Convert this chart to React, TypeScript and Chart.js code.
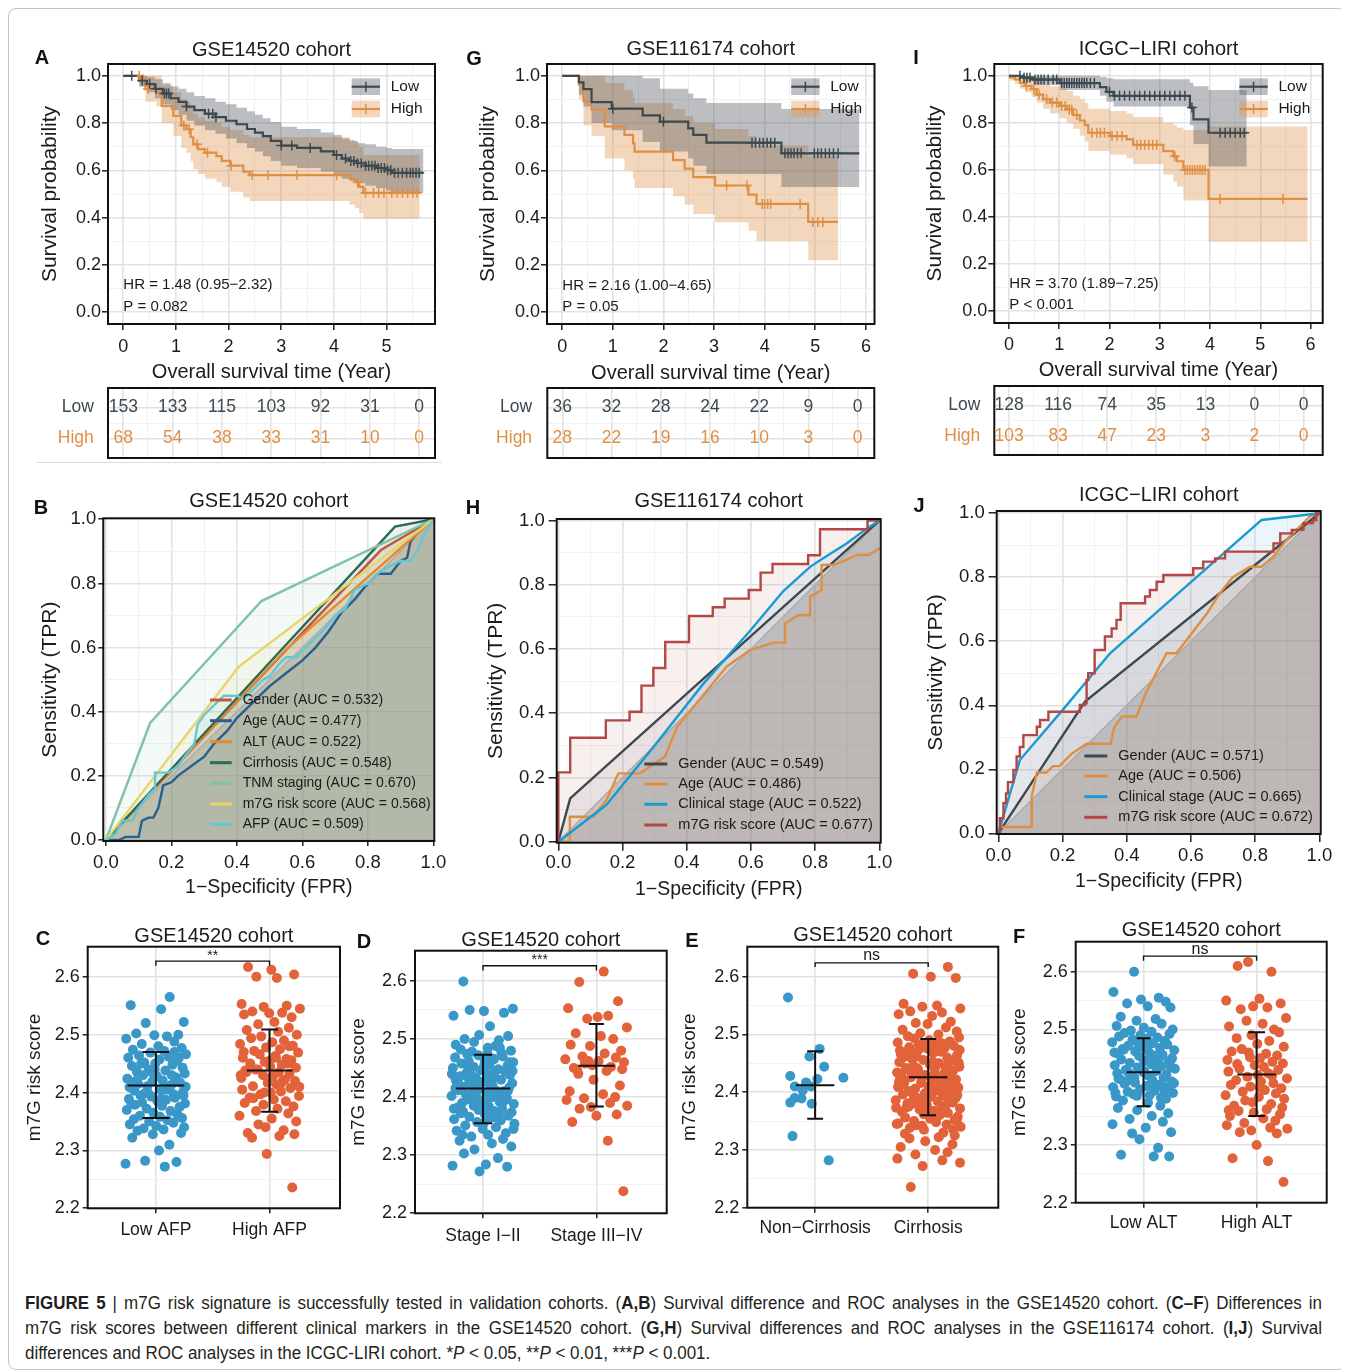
import React, { useEffect, useRef } from 'react';
import { Chart, registerables } from 'chart.js';

Chart.register(...registerables);

/* ---------------- style constants ---------------- */
const FONT = "'Liberation Sans', Arial, Helvetica, sans-serif";
const INK = '#1b1b1b';
const GRID_MAJOR = '#e2e2e2';
const GRID_MINOR = '#efefef';
const LOW_COL = '#3C494F';
const HIGH_COL = '#DF8F44';
const LOW_BAND = 'rgba(70,76,82,0.36)';
const HIGH_BAND = 'rgba(223,143,68,0.36)';
const BLUE = '#3A98C8';
const RED = '#E2623A';

/* ---------------- KM: GSE14520 (A) ---------------- */
const A_low_t = [0, 0.3, 0.45, 0.6, 0.75, 0.9, 1.05, 1.2, 1.35, 1.55, 1.75, 1.95, 2.15, 2.35, 2.5, 2.65, 2.8, 3.0, 3.3, 3.75, 4.0, 4.15, 4.3, 4.45, 4.6, 4.8, 5.0, 5.1];
const A_low_s = [1, 0.98, 0.965, 0.945, 0.925, 0.905, 0.89, 0.87, 0.855, 0.84, 0.825, 0.81, 0.795, 0.775, 0.76, 0.745, 0.725, 0.705, 0.695, 0.68, 0.665, 0.65, 0.64, 0.63, 0.62, 0.61, 0.6, 0.59];
const A_low_up = [1, 1, 0.995, 0.985, 0.97, 0.955, 0.945, 0.93, 0.915, 0.905, 0.89, 0.88, 0.865, 0.85, 0.835, 0.82, 0.805, 0.785, 0.775, 0.76, 0.75, 0.735, 0.725, 0.715, 0.71, 0.7, 0.695, 0.69];
const A_low_lo = [1, 0.955, 0.93, 0.905, 0.88, 0.855, 0.835, 0.81, 0.79, 0.77, 0.755, 0.735, 0.715, 0.695, 0.68, 0.66, 0.64, 0.62, 0.61, 0.595, 0.58, 0.565, 0.555, 0.545, 0.535, 0.525, 0.515, 0.505];
const A_low_end = 5.7;
const A_low_cens = [0.16, 0.36, 0.5, 0.62, 0.78, 0.82, 0.86, 1.2, 1.62, 1.7, 1.76, 3.0, 3.2, 3.55, 4.05, 4.22, 4.32, 4.38, 4.45, 4.52, 4.6, 4.66, 4.72, 4.78, 4.84, 4.9, 4.96, 5.02, 5.08, 5.15, 5.22, 5.3, 5.38, 5.45, 5.5, 5.56, 5.62];
const A_high_t = [0, 0.32, 0.42, 0.63, 0.73, 0.95, 1.1, 1.2, 1.28, 1.33, 1.42, 1.55, 1.77, 1.87, 2.03, 2.28, 2.4, 4.3, 4.4, 4.48, 4.56];
const A_high_s = [1, 0.986, 0.944, 0.93, 0.873, 0.83, 0.79, 0.774, 0.74, 0.71, 0.69, 0.675, 0.66, 0.64, 0.62, 0.595, 0.58, 0.565, 0.55, 0.53, 0.505];
const A_high_up = [1, 1, 1, 1, 0.96, 0.93, 0.9, 0.89, 0.865, 0.84, 0.825, 0.81, 0.8, 0.785, 0.77, 0.75, 0.74, 0.73, 0.72, 0.7, 0.665];
const A_high_lo = [1, 0.955, 0.89, 0.87, 0.8, 0.745, 0.695, 0.675, 0.64, 0.605, 0.585, 0.565, 0.55, 0.53, 0.51, 0.485, 0.47, 0.455, 0.44, 0.42, 0.395];
const A_high_end = 5.63;
const A_high_cens = [0.3, 0.38, 0.47, 1.15, 1.25, 1.4, 1.6, 2.05, 2.45, 2.75, 3.3, 4.05, 4.45, 4.6, 4.75, 4.85, 4.95, 5.1, 5.2, 5.3, 5.4, 5.5, 5.58];
const A_risk_low = [153, 133, 115, 103, 92, 31, 0];
const A_risk_high = [68, 54, 38, 33, 31, 10, 0];

/* ---------------- KM: GSE116174 (G) ---------------- */
const G_low_t = [0, 0.33, 0.42, 0.58, 0.98, 1.59, 1.93, 2.49, 2.59, 2.85, 4.33];
const G_low_s = [1, 0.972, 0.944, 0.889, 0.861, 0.833, 0.806, 0.778, 0.75, 0.717, 0.672];
const G_low_up = [1, 1, 1, 1, 1, 0.99, 0.945, 0.925, 0.905, 0.885, 0.86];
const G_low_lo = [1, 0.92, 0.87, 0.8, 0.77, 0.72, 0.68, 0.65, 0.62, 0.585, 0.53];
const G_low_end = 5.87;
const G_low_cens = [1.0, 2.0, 3.75, 3.82, 3.9, 3.97, 4.05, 4.12, 4.2, 4.4, 4.46, 4.52, 4.58, 4.65, 4.72, 4.98, 5.05, 5.12, 5.2, 5.28, 5.36, 5.45];
const G_high_t = [0, 0.33, 0.42, 0.58, 0.84, 1.23, 1.4, 1.43, 2.19, 2.42, 2.59, 3.02, 3.68, 3.84, 4.86];
const G_high_s = [1, 0.964, 0.893, 0.857, 0.786, 0.75, 0.714, 0.679, 0.643, 0.607, 0.571, 0.536, 0.497, 0.458, 0.382];
const G_high_up = [1, 1, 1, 1, 0.97, 0.94, 0.91, 0.885, 0.86, 0.83, 0.8, 0.775, 0.745, 0.705, 0.66];
const G_high_lo = [1, 0.9, 0.79, 0.745, 0.65, 0.6, 0.565, 0.525, 0.49, 0.455, 0.415, 0.38, 0.345, 0.3, 0.22];
const G_high_end = 5.45;
const G_high_cens = [3.25, 3.65, 3.95, 4.0, 4.06, 4.12, 4.7, 4.95, 5.05, 5.15];
const G_risk_low = [36, 32, 28, 24, 22, 9, 0];
const G_risk_high = [28, 22, 19, 16, 10, 3, 0];

/* ---------------- KM: ICGC-LIRI (I) ---------------- */
const I_low_t = [0, 0.28, 0.48, 1.01, 1.81, 1.94, 2.08, 3.6, 3.67, 3.97];
const I_low_s = [1, 0.992, 0.984, 0.969, 0.952, 0.932, 0.915, 0.865, 0.815, 0.758];
const I_low_up = [1, 1, 1, 1, 0.995, 0.99, 0.985, 0.97, 0.955, 0.94];
const I_low_lo = [1, 0.977, 0.962, 0.94, 0.915, 0.89, 0.87, 0.79, 0.71, 0.615];
const I_low_end = 4.73;
const I_low_cens = [0.22, 0.3, 0.36, 0.42, 0.52, 0.58, 0.64, 0.7, 0.78, 0.88, 0.95, 1.05, 1.1, 1.15, 1.2, 1.25, 1.3, 1.35, 1.4, 1.45, 1.5, 1.55, 1.62, 1.7, 2.0, 2.1, 2.2, 2.3, 2.4, 2.5, 2.6, 2.7, 2.8, 2.9, 3.0, 3.1, 3.2, 3.3, 3.4, 3.5, 3.64, 4.2, 4.3, 4.4, 4.5, 4.6, 4.68];
const I_high_t = [0, 0.02, 0.12, 0.22, 0.32, 0.45, 0.55, 0.68, 0.82, 1.01, 1.15, 1.28, 1.41, 1.51, 1.58, 2.01, 2.34, 2.47, 3.07, 3.27, 3.34, 3.47, 3.97];
const I_high_s = [1, 0.993, 0.985, 0.97, 0.957, 0.943, 0.92, 0.9, 0.886, 0.872, 0.857, 0.833, 0.81, 0.79, 0.758, 0.744, 0.73, 0.707, 0.68, 0.658, 0.637, 0.6, 0.477];
const I_high_up = [1, 1, 1, 1, 1, 0.995, 0.98, 0.965, 0.955, 0.945, 0.935, 0.915, 0.9, 0.885, 0.86, 0.85, 0.84, 0.825, 0.8, 0.79, 0.78, 0.77, 0.785];
const I_high_lo = [1, 0.98, 0.965, 0.945, 0.93, 0.91, 0.885, 0.86, 0.84, 0.82, 0.8, 0.775, 0.745, 0.72, 0.68, 0.665, 0.65, 0.625, 0.58, 0.55, 0.53, 0.47, 0.295];
const I_high_end = 5.94;
const I_high_cens = [0.35, 0.5, 0.6, 0.75, 0.86, 0.95, 1.05, 1.12, 1.2, 1.25, 1.35, 1.65, 1.75, 1.82, 1.9, 2.05, 2.15, 2.25, 2.55, 2.62, 2.7, 2.78, 2.86, 2.94, 3.3, 3.5, 3.55, 3.6, 3.65, 3.7, 3.75, 3.8, 3.85, 3.9, 4.2, 5.45];
const I_risk_low = [128, 116, 74, 35, 13, 0, 0];
const I_risk_high = [103, 83, 47, 23, 3, 2, 0];

const RISK_TIMES = [0, 1, 2, 3, 4, 5, 6];

/* ---------------- ROC: GSE14520 (B) ---------------- */
const B_gender_fpr = [0, 0.84, 1];
const B_gender_tpr = [0, 0.904, 1];
const B_age_fpr = [0, 0.04, 0.06, 0.1, 0.11, 0.13, 0.145, 0.16, 0.175, 0.2, 0.22, 0.26, 0.3, 0.33, 0.37, 0.4, 0.45, 0.5, 0.55, 0.6, 0.64, 0.68, 0.72, 0.76, 0.8, 0.83, 0.87, 0.9, 0.92, 0.93, 0.96, 1];
const B_age_tpr = [0, 0, 0.01, 0.01, 0.06, 0.07, 0.07, 0.1, 0.17, 0.18, 0.2, 0.23, 0.26, 0.3, 0.34, 0.38, 0.43, 0.48, 0.52, 0.56, 0.6, 0.65, 0.71, 0.75, 0.8, 0.83, 0.83, 0.87, 0.88, 0.93, 0.97, 1];
const B_alt_fpr = [0, 0.55, 1];
const B_alt_tpr = [0, 0.594, 1];
const B_cirr_fpr = [0, 0.883, 1];
const B_cirr_tpr = [0, 0.977, 1];
const B_tnm_fpr = [0, 0.135, 0.475, 1];
const B_tnm_tpr = [0, 0.365, 0.745, 1];
const B_m7g_fpr = [0, 0.405, 1];
const B_m7g_tpr = [0, 0.54, 1];
const B_afp_fpr = [0, 0.03, 0.05, 0.08, 0.1, 0.13, 0.15, 0.15, 0.19, 0.22, 0.24, 0.27, 0.28, 0.3, 0.34, 0.36, 0.4, 0.42, 0.45, 0.48, 0.5, 0.53, 0.55, 0.58, 0.61, 0.64, 0.67, 0.7, 0.73, 0.76, 0.8, 0.84, 0.9, 0.93, 0.95, 0.97, 1];
const B_afp_tpr = [0, 0.02, 0.06, 0.06, 0.1, 0.14, 0.16, 0.21, 0.21, 0.23, 0.26, 0.3, 0.36, 0.39, 0.43, 0.45, 0.45, 0.44, 0.47, 0.5, 0.51, 0.55, 0.57, 0.57, 0.6, 0.63, 0.66, 0.7, 0.72, 0.78, 0.8, 0.84, 0.87, 0.87, 0.9, 0.95, 1];
const B_labels = ['Gender (AUC = 0.532)', 'Age (AUC = 0.477)', 'ALT (AUC = 0.522)', 'Cirrhosis (AUC = 0.548)', 'TNM staging (AUC = 0.670)', 'm7G risk score (AUC = 0.568)', 'AFP (AUC = 0.509)'];

/* ---------------- ROC: GSE116174 (H) ---------------- */
const H_gender_fpr = [0, 0.037, 1];
const H_gender_tpr = [0, 0.135, 1];
const H_age_fpr = [0, 0.036, 0.036, 0.109, 0.15, 0.187, 0.254, 0.332, 0.37, 0.524, 0.597, 0.67, 0.706, 0.706, 0.748, 0.784, 0.784, 0.82, 0.82, 0.857, 0.895, 0.93, 0.966, 1];
const H_age_tpr = [0, 0, 0.078, 0.078, 0.13, 0.213, 0.213, 0.265, 0.358, 0.545, 0.597, 0.62, 0.62, 0.68, 0.706, 0.706, 0.763, 0.784, 0.862, 0.862, 0.877, 0.893, 0.893, 0.914];
const H_stage_fpr = [0, 0.15, 0.3, 0.45, 0.6, 0.7, 0.784, 0.82, 0.9, 0.96, 1];
const H_stage_tpr = [0, 0.115, 0.3, 0.49, 0.66, 0.78, 0.856, 0.88, 0.93, 0.975, 1];
const H_m7g_fpr = [0, 0, 0.037, 0.148, 0.222, 0.259, 0.296, 0.333, 0.407, 0.481, 0.518, 0.593, 0.63, 0.667, 0.778, 0.815, 0.963, 1];
const H_m7g_tpr = [0, 0.216, 0.324, 0.378, 0.405, 0.486, 0.541, 0.622, 0.703, 0.73, 0.757, 0.784, 0.838, 0.865, 0.892, 0.973, 1, 1];
const H_labels = ['Gender (AUC = 0.549)', 'Age (AUC = 0.486)', 'Clinical stage (AUC = 0.522)', 'm7G risk score (AUC = 0.677)'];

/* ---------------- ROC: ICGC-LIRI (J) ---------------- */
const J_gender_fpr = [0, 0.27, 1];
const J_gender_tpr = [0, 0.412, 1];
const J_age_fpr = [0, 0.005, 0.104, 0.104, 0.12, 0.15, 0.17, 0.19, 0.23, 0.275, 0.35, 0.36, 0.385, 0.43, 0.46, 0.524, 0.555, 0.65, 0.69, 0.73, 0.784, 0.82, 0.857, 0.898, 0.97, 1];
const J_age_tpr = [0, 0.02, 0.02, 0.115, 0.19, 0.19, 0.21, 0.21, 0.25, 0.28, 0.28, 0.33, 0.365, 0.365, 0.44, 0.5625, 0.5625, 0.6875, 0.75, 0.8, 0.833, 0.833, 0.865, 0.917, 0.99, 1];
const J_stage_fpr = [0, 0.067, 0.2, 0.348, 0.82, 1];
const J_stage_tpr = [0, 0.229, 0.385, 0.5625, 0.979, 1];
const J_m7g_fpr = [0, 0.005, 0.016, 0.024, 0.03, 0.047, 0.057, 0.067, 0.078, 0.12, 0.13, 0.156, 0.254, 0.27, 0.275, 0.28, 0.3, 0.332, 0.353, 0.368, 0.381, 0.457, 0.472, 0.493, 0.514, 0.607, 0.638, 0.675, 0.706, 0.857, 0.878, 0.914, 0.95, 0.98, 0.99, 1];
const J_m7g_tpr = [0, 0.047, 0.094, 0.125, 0.16, 0.198, 0.24, 0.27, 0.307, 0.333, 0.354, 0.38, 0.401, 0.406, 0.479, 0.5, 0.573, 0.615, 0.64, 0.667, 0.719, 0.74, 0.76, 0.786, 0.807, 0.828, 0.849, 0.859, 0.88, 0.906, 0.937, 0.948, 0.969, 0.979, 1, 1];
const J_labels = ['Gender (AUC = 0.571)', 'Age (AUC = 0.506)', 'Clinical stage (AUC = 0.665)', 'm7G risk score (AUC = 0.672)'];

/* ---------------- dot plots (C-F) ---------------- */
const C_cats = ['Low AFP', 'High AFP'];
const C_low = [2.565, 2.551, 2.544, 2.522, 2.52, 2.502, 2.5, 2.499, 2.497, 2.493, 2.488, 2.484, 2.48, 2.477, 2.474, 2.472, 2.469, 2.466, 2.464, 2.462, 2.46, 2.457, 2.455, 2.452, 2.45, 2.448, 2.446, 2.443, 2.44, 2.438, 2.436, 2.433, 2.43, 2.428, 2.426, 2.424, 2.421, 2.419, 2.417, 2.415, 2.413, 2.411, 2.409, 2.407, 2.405, 2.403, 2.401, 2.399, 2.397, 2.395, 2.393, 2.391, 2.389, 2.387, 2.385, 2.383, 2.381, 2.379, 2.377, 2.375, 2.372, 2.37, 2.368, 2.365, 2.362, 2.36, 2.358, 2.356, 2.354, 2.352, 2.35, 2.348, 2.345, 2.342, 2.34, 2.338, 2.336, 2.334, 2.33, 2.328, 2.322, 2.31, 2.3, 2.282, 2.28, 2.277, 2.272, 2.46, 2.45, 2.44, 2.43, 2.42, 2.41, 2.4, 2.39, 2.38, 2.47, 2.435, 2.405, 2.395];
const C_high = [2.617, 2.612, 2.604, 2.6, 2.598, 2.553, 2.55, 2.548, 2.545, 2.54, 2.538, 2.537, 2.535, 2.53, 2.522, 2.518, 2.512, 2.508, 2.505, 2.5, 2.497, 2.494, 2.49, 2.487, 2.484, 2.481, 2.478, 2.475, 2.472, 2.469, 2.466, 2.463, 2.46, 2.458, 2.456, 2.453, 2.45, 2.448, 2.445, 2.443, 2.44, 2.438, 2.435, 2.432, 2.43, 2.428, 2.425, 2.422, 2.42, 2.417, 2.414, 2.411, 2.408, 2.405, 2.402, 2.4, 2.397, 2.394, 2.391, 2.388, 2.385, 2.382, 2.379, 2.376, 2.372, 2.368, 2.364, 2.36, 2.355, 2.35, 2.345, 2.34, 2.335, 2.33, 2.328, 2.325, 2.322, 2.294, 2.236, 2.47, 2.46, 2.45, 2.44, 2.43, 2.42, 2.41, 2.4, 2.39, 2.48, 2.455, 2.435, 2.415];
const C_mean = [2.412, 2.438];
const C_sdLo = [2.356, 2.367];
const C_sdHi = [2.47, 2.509];
const C_bracket = [2.627, 2.619];
const C_sig = '**';

const D_cats = ['Stage I\u2212II', 'Stage III\u2212IV'];
const D_low = [2.599, 2.552, 2.55, 2.548, 2.545, 2.54, 2.522, 2.507, 2.505, 2.5, 2.498, 2.495, 2.49, 2.488, 2.485, 2.482, 2.48, 2.478, 2.476, 2.474, 2.472, 2.47, 2.468, 2.466, 2.464, 2.462, 2.46, 2.458, 2.456, 2.454, 2.452, 2.45, 2.448, 2.446, 2.444, 2.442, 2.44, 2.438, 2.436, 2.434, 2.432, 2.43, 2.428, 2.426, 2.424, 2.422, 2.42, 2.418, 2.416, 2.414, 2.412, 2.41, 2.408, 2.406, 2.404, 2.402, 2.4, 2.398, 2.396, 2.394, 2.392, 2.39, 2.388, 2.386, 2.384, 2.382, 2.38, 2.378, 2.376, 2.374, 2.372, 2.37, 2.368, 2.366, 2.364, 2.362, 2.36, 2.357, 2.354, 2.351, 2.348, 2.345, 2.342, 2.338, 2.335, 2.332, 2.328, 2.325, 2.32, 2.315, 2.31, 2.303, 2.295, 2.284, 2.282, 2.28, 2.272, 2.465, 2.455, 2.445, 2.435, 2.425, 2.415, 2.405, 2.395, 2.385, 2.375, 2.365, 2.355, 2.45, 2.44, 2.43, 2.42, 2.41, 2.4, 2.39, 2.38, 2.37, 2.46, 2.425, 2.415, 2.405, 2.395, 2.435, 2.445, 2.455, 2.385, 2.345, 2.335, 2.475, 2.485, 2.415, 2.42, 2.41, 2.4, 2.43, 2.39, 2.44, 2.38];
const D_high = [2.616, 2.598, 2.565, 2.553, 2.54, 2.538, 2.535, 2.52, 2.51, 2.505, 2.5, 2.49, 2.488, 2.48, 2.475, 2.47, 2.468, 2.465, 2.462, 2.46, 2.458, 2.455, 2.452, 2.45, 2.448, 2.445, 2.44, 2.43, 2.42, 2.41, 2.405, 2.4, 2.398, 2.395, 2.39, 2.385, 2.383, 2.38, 2.37, 2.368, 2.357, 2.325, 2.238, 2.462, 2.447];
const D_mean = [2.415, 2.454];
const D_sdLo = [2.355, 2.384];
const D_sdHi = [2.473, 2.526];
const D_bracket = [2.626, 2.618];
const D_sig = '***';

const E_cats = ['Non\u2212Cirrhosis', 'Cirrhosis'];
const E_low = [2.564, 2.475, 2.462, 2.444, 2.425, 2.428, 2.423, 2.417, 2.41, 2.403, 2.39, 2.389, 2.382, 2.38, 2.324, 2.282, 2.41];
const E_low_dx = [-0.24, 0.04, -0.05, 0.08, 0.25, -0.22, 0.02, -0.08, -0.18, -0.11, -0.18, -0.12, -0.22, -0.03, -0.2, 0.12, -0.035];
const E_high = [2.617, 2.605, 2.6, 2.598, 2.553, 2.55, 2.548, 2.545, 2.54, 2.538, 2.535, 2.532, 2.522, 2.52, 2.518, 2.512, 2.508, 2.505, 2.502, 2.5,
  2.497, 2.495, 2.493, 2.49, 2.488, 2.486, 2.484, 2.482, 2.48, 2.478, 2.476, 2.474, 2.472, 2.47, 2.468, 2.466, 2.464, 2.462, 2.46, 2.458,
  2.456, 2.454, 2.452, 2.45, 2.448, 2.446, 2.444, 2.442, 2.44, 2.438, 2.436, 2.434, 2.432, 2.43, 2.428, 2.426, 2.424, 2.422, 2.42, 2.418,
  2.416, 2.414, 2.412, 2.41, 2.408, 2.406, 2.404, 2.402, 2.4, 2.398, 2.396, 2.394, 2.392, 2.39, 2.388, 2.386, 2.384, 2.382, 2.38, 2.378,
  2.376, 2.374, 2.372, 2.37, 2.368, 2.366, 2.364, 2.362, 2.36, 2.358, 2.356, 2.354, 2.352, 2.35, 2.348, 2.346, 2.344, 2.342, 2.34, 2.338,
  2.485, 2.475, 2.465, 2.455, 2.445, 2.435, 2.425, 2.415, 2.405, 2.395, 2.385, 2.375, 2.365, 2.355, 2.345, 2.335,
  2.481, 2.471, 2.461, 2.451, 2.441, 2.431, 2.421, 2.411, 2.401, 2.391, 2.381, 2.371, 2.361, 2.351,
  2.469, 2.459, 2.449, 2.439, 2.429, 2.419, 2.409, 2.399, 2.389, 2.379, 2.447, 2.437, 2.427, 2.417, 2.407, 2.397,
  2.483, 2.473, 2.463, 2.453, 2.443, 2.433, 2.423, 2.413, 2.403, 2.393, 2.383, 2.373, 2.363, 2.353, 2.343,
  2.335, 2.33, 2.328, 2.325, 2.322, 2.32, 2.315, 2.31, 2.305, 2.3, 2.296, 2.292, 2.285, 2.282, 2.278, 2.272, 2.236];
const E_mean = [2.412, 2.426];
const E_sdLo = [2.354, 2.36];
const E_sdHi = [2.471, 2.492];
const E_bracket = [2.624, 2.617];
const E_sig = 'ns';

const F_cats = ['Low ALT', 'High ALT'];
const F_low = [2.6, 2.565, 2.555, 2.552, 2.548, 2.545, 2.54, 2.538, 2.522, 2.518, 2.515, 2.51, 2.506, 2.503, 2.5,
  2.498, 2.496, 2.494, 2.492, 2.49, 2.488, 2.486, 2.484, 2.482, 2.48, 2.478, 2.476, 2.474, 2.472, 2.47, 2.468, 2.466, 2.464, 2.462, 2.46,
  2.458, 2.456, 2.454, 2.452, 2.45, 2.448, 2.446, 2.444, 2.442, 2.44, 2.438, 2.436, 2.434, 2.432, 2.43, 2.428, 2.426, 2.424, 2.422, 2.42,
  2.418, 2.416, 2.414, 2.412, 2.41, 2.408, 2.406, 2.404, 2.402, 2.4, 2.398, 2.396, 2.394, 2.392, 2.39, 2.388, 2.386, 2.384, 2.382, 2.38,
  2.475, 2.465, 2.455, 2.445, 2.435, 2.425, 2.415, 2.405, 2.395, 2.385, 2.47, 2.46, 2.45, 2.44, 2.43, 2.42, 2.41, 2.4, 2.39, 2.437, 2.427, 2.417, 2.407,
  2.377, 2.373, 2.368, 2.364, 2.36, 2.355, 2.35, 2.345, 2.34, 2.336, 2.33, 2.322, 2.32, 2.31, 2.295, 2.283, 2.28, 2.28];
const F_high = [2.617, 2.61, 2.6, 2.553, 2.55, 2.545, 2.54, 2.538, 2.535, 2.52, 2.515, 2.51, 2.505, 2.5, 2.495,
  2.49, 2.485, 2.48, 2.475, 2.47, 2.466, 2.462, 2.458, 2.455, 2.452, 2.45, 2.447, 2.444, 2.441, 2.438, 2.435, 2.432, 2.43, 2.427, 2.424,
  2.421, 2.418, 2.415, 2.412, 2.41, 2.407, 2.404, 2.401, 2.398, 2.395, 2.392, 2.389, 2.386, 2.383, 2.38, 2.377, 2.374, 2.371, 2.368, 2.365,
  2.362, 2.359, 2.356, 2.353, 2.35, 2.346, 2.342, 2.338, 2.334, 2.33,
  2.328, 2.325, 2.322, 2.32, 2.3, 2.277, 2.272, 2.236, 2.46, 2.44, 2.42, 2.4, 2.36];
const F_mean = [2.426, 2.422];
const F_sdLo = [2.367, 2.35];
const F_sdHi = [2.485, 2.495];
const F_bracket = [2.627, 2.619];
const F_sig = 'ns';

/* hand-typed jitter offsets (fractions of jitter half-width) */
const JIT = [0.45, -0.82, 0.17, 0.91, -0.33, -0.64, 0.73, -0.05, 0.36, -0.97, 0.6, -0.46, 0.08, 0.84, -0.75, 0.27, -0.18, 0.98, -0.55, 0.42, -0.9, 0.12, 0.69, -0.38, -0.02, 0.54, -0.78, 0.87, -0.24, 0.31, -0.62, 0.94, -0.42, 0.03, 0.66, -0.93, 0.22, -0.12, 0.79, -0.58, 0.5, -0.28, -0.86, 0.39, 0.15, -0.7, 0.88, -0.35, 0.58, -0.5,
  -0.15, 0.62, -0.88, 0.33, 0.05, -0.45, 0.95, -0.68, 0.2, 0.77, -0.3, -0.95, 0.48, -0.08, 0.7, -0.52, 0.13, 0.85, -0.72, 0.38, -0.22, 0.57, -0.85, 0.01, 0.92, -0.4, 0.25, -0.6, 0.82, -0.1, -0.77, 0.44, 0.1, -0.35, 0.67, -0.99, 0.29, 0.75, -0.48, -0.04, 0.52, -0.66, 0.97, -0.26, 0.18, -0.8, 0.6, -0.14, 0.35, 0.9,
  -0.7, 0.06, 0.8, -0.43, 0.24, -0.91, 0.56, -0.19, 0.99, -0.56, 0.41, -0.01, -0.83, 0.72, 0.16, -0.37, 0.63, -0.74, 0.28, 0.89, -0.27, -0.6, 0.47, 0.09, -0.96, 0.76, -0.11, 0.34, -0.5, 0.93, -0.32, 0.19, -0.87, 0.55, 0.71, -0.16, -0.63, 0.4, 0.02, 0.86, -0.47, -0.79, 0.3, 0.65, -0.21, 0.11, -0.92, 0.5, 0.83, -0.06,
  0.23, -0.54, 0.68, -0.89, 0.37, 0.04, -0.29, 0.96, -0.65, 0.14, 0.53, -0.81, -0.2, 0.78, 0.26, -0.44, 0.61, -0.98, 0.07, 0.87, -0.36, -0.13, 0.46, -0.71, 0.81, 0.32, -0.57, -0.09, 0.74, -0.84, 0.21, 0.59, -0.39, -0.94, 0.43, 0.97, -0.17, -0.53, 0.64, 0.0, -0.76, 0.36, 0.85, -0.25, -0.61, 0.49, 0.1, -0.88, 0.7, -0.31];

/* axis tick sets */
const KM_Y_TICKS = [0, 0.1, 0.2, 0.3, 0.4, 0.5, 0.6, 0.7, 0.8, 0.9, 1];
const KM_X_TICKS_5 = [0, 0.5, 1, 1.5, 2, 2.5, 3, 3.5, 4, 4.5, 5, 5.5];
const KM_X_TICKS_6 = [0, 0.5, 1, 1.5, 2, 2.5, 3, 3.5, 4, 4.5, 5, 5.5, 6];
const ROC_TICKS = [0, 0.1, 0.2, 0.3, 0.4, 0.5, 0.6, 0.7, 0.8, 0.9, 1];
const DOT_Y_TICKS = [2.2, 2.25, 2.3, 2.35, 2.4, 2.45, 2.5, 2.55, 2.6, 2.65];
const ROW_LOW = 0.72;
const ROW_HIGH = 0.28;

/* panel letters (page positions) */
const LETTERS = [
  { t: 'A', x: 42, y: 57 }, { t: 'G', x: 474, y: 58 }, { t: 'I', x: 916, y: 57 },
  { t: 'B', x: 41, y: 507 }, { t: 'H', x: 473, y: 507 }, { t: 'J', x: 919, y: 505 },
  { t: 'C', x: 43, y: 938 }, { t: 'D', x: 364, y: 941 }, { t: 'E', x: 692, y: 940 }, { t: 'F', x: 1019, y: 936 },
];

/* ---------------- helpers ---------------- */
function layoutFor(c: any, p: any) {
  return {
    padding: { left: 0, top: p.t - c.y, right: c.x + c.w - p.r, bottom: 0 },
    yW: p.l - c.x,
    xH: c.y + c.h - p.b,
  };
}

function axis(o: any) {
  const isMajor = (v: number) =>
    o.majors
      ? o.majors.some((m: number) => Math.abs(m - v) < 1e-6)
      : Math.abs(v / o.step - Math.round(v / o.step)) < 1e-6;
  const tv = (c: any) => (c && c.tick ? c.tick.value : NaN);
  return {
    type: 'linear',
    bounds: 'data',
    min: o.min,
    max: o.max,
    afterBuildTicks: (s: any) => {
      s.ticks = o.ticks.map((v: number) => ({ value: v }));
    },
    afterFit: (s: any) => {
      if (o.w !== undefined) s.width = o.w;
      if (o.h !== undefined) s.height = o.h;
    },
    grid: {
      color: (c: any) => (isMajor(tv(c)) ? GRID_MAJOR : GRID_MINOR),
      lineWidth: (c: any) => (isMajor(tv(c)) ? 1.6 : 0.9),
      drawTicks: o.tl > 0,
      tickLength: o.tl,
      tickWidth: 1.4,
      tickColor: (c: any) => (isMajor(tv(c)) ? '#111' : 'rgba(0,0,0,0)'),
    },
    border: { display: false },
    ticks: {
      autoSkip: false,
      maxRotation: 0,
      minRotation: 0,
      padding: o.pad,
      font: { family: FONT, size: o.fs },
      color: (c: any) => (o.colorOf ? o.colorOf(tv(c)) : INK),
      callback: (v: number) => (isMajor(v) ? o.fmt(v) : ''),
    },
    title: o.title
      ? { display: true, text: o.title, color: INK, font: { family: FONT, size: o.ts }, padding: { top: o.tpt || 0, bottom: o.tpb || 0 } }
      : { display: false },
  };
}

function makeDecor(spec: any) {
  return {
    id: 'decor',
    afterDatasetsDraw(chart: any) {
      const ctx = chart.ctx;
      const a = chart.chartArea;
      const X = (v: number) => v - spec.ox;
      const Y = (v: number) => v - spec.oy;
      const font = (s: number, b?: boolean) => `${b ? 'bold ' : ''}${s}px ${FONT}`;
      ctx.save();
      ctx.textBaseline = 'middle';
      if (spec.table) {
        const T = spec.table;
        ctx.font = font(T.size);
        ctx.textAlign = 'center';
        T.rows.forEach((row: number[], r: number) => {
          ctx.fillStyle = T.colors[r];
          const py = chart.scales.y.getPixelForValue(T.ys[r]);
          row.forEach((n: number, j: number) => ctx.fillText(String(n), chart.scales.x.getPixelForValue(T.times[j]), py));
        });
      }
      if (spec.frame) {
        ctx.strokeStyle = '#111';
        ctx.lineWidth = 2;
        ctx.strokeRect(a.left, a.top, a.right - a.left, a.bottom - a.top);
      }
      if (spec.km) {
        const K = spec.km;
        K.items.forEach((it: any, i: number) => {
          const cy = Y(K.rows[i]);
          const l = X(K.keyL);
          const r = X(K.keyR);
          ctx.fillStyle = it.band;
          ctx.fillRect(l, cy - 8.3, r - l, 16.6);
          ctx.strokeStyle = it.line;
          ctx.lineWidth = 2.2;
          ctx.beginPath();
          ctx.moveTo(l, cy);
          ctx.lineTo(r, cy);
          ctx.stroke();
          const mx = (l + r) / 2;
          ctx.lineWidth = 1.5;
          ctx.beginPath();
          ctx.moveTo(mx, cy - 5);
          ctx.lineTo(mx, cy + 5);
          ctx.stroke();
          ctx.fillStyle = INK;
          ctx.font = font(K.size);
          ctx.textAlign = 'left';
          ctx.fillText(it.label, X(K.textX), cy);
        });
      }
      if (spec.roc) {
        const R = spec.roc;
        R.items.forEach((it: any, i: number) => {
          const cy = Y(R.rows[i]);
          ctx.strokeStyle = it.color;
          ctx.lineWidth = 3;
          ctx.beginPath();
          ctx.moveTo(X(R.x1), cy);
          ctx.lineTo(X(R.x2), cy);
          ctx.stroke();
          ctx.fillStyle = INK;
          ctx.font = font(R.size);
          ctx.textAlign = 'left';
          ctx.fillText(it.label, X(R.textX), cy);
        });
      }
      (spec.dataTexts || []).forEach((t: any) => {
        ctx.fillStyle = INK;
        ctx.font = font(t.size);
        ctx.textAlign = 'center';
        ctx.fillText(t.t, chart.scales.x.getPixelForValue(t.vx), chart.scales.y.getPixelForValue(t.vy));
      });
      (spec.texts || []).forEach((t: any) => {
        ctx.fillStyle = t.color || INK;
        ctx.font = font(t.size, t.bold);
        ctx.textAlign = t.align || 'center';
        ctx.fillText(t.t, X(t.x), Y(t.y));
      });
      ctx.restore();
    },
  };
}

const baseOptions = (L: any) => ({
  responsive: false,
  animation: false,
  devicePixelRatio: 1,
  events: [],
  layout: { padding: L.padding },
  plugins: {
    legend: { display: false },
    tooltip: { enabled: false },
    title: { display: false },
    filler: { drawTime: 'beforeDatasetsDraw' },
  },
});

/* ---------------- KM ---------------- */
function kmGroup(g: any) {
  const stepPts = (v: number[]) => g.t.map((x: number, i: number) => ({ x, y: v[i] })).concat([{ x: g.end, y: v[v.length - 1] }]);
  const survAt = (x: number) => {
    let s = g.s[0];
    for (let i = 0; i < g.t.length; i++) if (g.t[i] <= x) s = g.s[i];
    return s;
  };
  return [
    { data: stepPts(g.up), stepped: 'before', borderColor: 'rgba(0,0,0,0)', borderWidth: 0, pointRadius: 0, fill: '+1', backgroundColor: g.band, order: 5 },
    { data: stepPts(g.lo), stepped: 'before', borderColor: 'rgba(0,0,0,0)', borderWidth: 0, pointRadius: 0, fill: false, order: 5 },
    { data: stepPts(g.s), stepped: 'before', borderColor: g.color, borderWidth: 2.2, pointRadius: 0, fill: false, order: 2 },
    {
      data: g.cens.map((c: number) => ({ x: c, y: survAt(c) })),
      showLine: false, pointStyle: 'cross', pointRadius: 5, pointBorderColor: g.color, pointBorderWidth: 1.5,
      borderColor: g.color, fill: false, order: 1,
    },
  ];
}

function kmConfig(P: any) {
  const L = layoutFor(P.canvas, P.plot);
  const ox = P.canvas.x;
  const oy = P.canvas.y;
  return {
    type: 'line',
    data: { datasets: [...kmGroup(P.low), ...kmGroup(P.high)] },
    options: {
      ...baseOptions(L),
      scales: {
        x: axis({
          min: P.xMin, max: P.xMax, ticks: P.xTicks, step: 1, tl: 6, pad: P.xPad, fs: 18,
          fmt: (v: number) => String(v), h: L.xH,
          title: 'Overall survival time (Year)', ts: 20, tpb: P.canvas.h - (P.xTitleY - oy) - 12,
        }),
        y: axis({
          min: -0.05, max: 1.05, ticks: KM_Y_TICKS, step: 0.2, tl: 6, pad: 1, fs: 18,
          fmt: (v: number) => v.toFixed(1), w: L.yW,
          title: 'Survival probability', ts: 21, tpt: P.yTitleX - ox - 12.6,
        }),
      },
    },
    plugins: [
      makeDecor({
        ox, oy, frame: true,
        km: {
          items: [
            { label: 'Low', line: LOW_COL, band: LOW_BAND },
            { label: 'High', line: HIGH_COL, band: HIGH_BAND },
          ],
          keyL: P.plot.r - 83.3, keyR: P.plot.r - 55, rows: [P.plot.t + 22.7, P.plot.t + 45], textX: P.plot.r - 44.3, size: 15.5,
        },
        texts: [
          { t: P.title, x: (P.plot.l + P.plot.r) / 2, y: P.titleY, size: 20 },
          { t: P.hr[0], x: P.hrX, y: P.hrY[0], size: 15, align: 'left' },
          { t: P.hr[1], x: P.hrX, y: P.hrY[1], size: 15, align: 'left' },
        ],
      }),
    ],
  };
}

function riskConfig(P: any) {
  const L = layoutFor(P.canvas, P.plot);
  return {
    type: 'line',
    data: { datasets: [{ data: [], pointRadius: 0 }] },
    options: {
      ...baseOptions(L),
      scales: {
        x: axis({ min: P.xMin, max: P.xMax, ticks: KM_X_TICKS_6, step: 1, tl: 0, pad: 0, fs: 10, fmt: () => '', h: L.xH }),
        y: axis({
          min: 0, max: 1, ticks: [ROW_HIGH, 0.5, ROW_LOW], majors: [ROW_HIGH, ROW_LOW], tl: 0, pad: P.labPad, fs: 17.5,
          fmt: (v: number) => (Math.abs(v - ROW_LOW) < 1e-6 ? 'Low' : 'High'),
          colorOf: (v: number) => (Math.abs(v - ROW_LOW) < 1e-6 ? LOW_COL : HIGH_COL),
          w: L.yW,
        }),
      },
    },
    plugins: [
      makeDecor({
        ox: P.canvas.x, oy: P.canvas.y, frame: true,
        table: { rows: [P.low, P.high], colors: [LOW_COL, HIGH_COL], ys: [ROW_LOW, ROW_HIGH], times: RISK_TIMES, size: 17.5 },
      }),
    ],
  };
}

/* ---------------- ROC ---------------- */
function rgba(hex: string, a: number) {
  const n = parseInt(hex.slice(1), 16);
  return `rgba(${(n >> 16) & 255},${(n >> 8) & 255},${n & 255},${a})`;
}

function rocConfig(P: any) {
  const L = layoutFor(P.canvas, P.plot);
  const ox = P.canvas.x;
  const oy = P.canvas.y;
  const ds: any[] = [
    {
      data: [{ x: 0, y: 0 }, { x: 1, y: 1 }], borderColor: '#adadad', borderWidth: 1.6, pointRadius: 0,
      fill: 'origin', backgroundColor: 'rgba(128,114,108,0.27)', order: 20,
    },
  ];
  P.curves.forEach((c: any, i: number) => {
    ds.push({
      data: c.fpr.map((x: number, k: number) => ({ x, y: c.tpr[k] })),
      stepped: c.step ? 'before' : false,
      borderColor: c.color, borderWidth: 2.4, pointRadius: 0,
      fill: 'origin', backgroundColor: rgba(c.color, P.fillA), order: 10 - i,
    });
  });
  return {
    type: 'line',
    data: { datasets: ds },
    options: {
      ...baseOptions(L),
      scales: {
        x: axis({
          min: P.xr[0], max: P.xr[1], ticks: ROC_TICKS, step: 0.2, tl: P.xTl, pad: P.xPad, fs: 18.5,
          fmt: (v: number) => v.toFixed(1), h: L.xH,
          title: '1\u2212Specificity (FPR)', ts: 19.5, tpb: P.canvas.h - (P.xTitleY - oy) - 11.7,
        }),
        y: axis({
          min: P.yr[0], max: P.yr[1], ticks: ROC_TICKS, step: 0.2, tl: P.yTl, pad: P.yPad, fs: 18.5,
          fmt: (v: number) => v.toFixed(1), w: L.yW,
          title: 'Sensitivity (TPR)', ts: 21, tpt: P.yTitleX - ox - 12.6,
        }),
      },
    },
    plugins: [
      makeDecor({
        ox, oy, frame: true,
        roc: { items: P.curves.map((c: any) => ({ label: c.label, color: c.color })), rows: P.legRows, x1: P.legX1, x2: P.legX2, textX: P.legText, size: P.legSize },
        texts: [{ t: P.title, x: (P.plot.l + P.plot.r) / 2, y: P.titleY, size: 20 }],
      }),
    ],
  };
}

/* ---------------- dot plots ---------------- */
function dotConfig(P: any) {
  const L = layoutFor(P.canvas, P.plot);
  const ox = P.canvas.x;
  const oy = P.canvas.y;
  const seg = (x1: number, y1: number, x2: number, y2: number) => ({
    data: [{ x: x1, y: y1 }, { x: x2, y: y2 }], borderColor: '#111', borderWidth: 2, pointRadius: 0, fill: false, order: 1,
  });
  const ds: any[] = [];
  ds.push({
    data: [{ x: 1, y: P.bracket[1] }, { x: 1, y: P.bracket[0] }, { x: 2, y: P.bracket[0] }, { x: 2, y: P.bracket[1] }],
    borderColor: '#111', borderWidth: 1.4, pointRadius: 0, fill: false, order: 1,
  });
  [0, 1].forEach((g) => {
    const cx = g + 1;
    const mw = P.meanW[g];
    const cw = P.capW[g];
    ds.push(seg(cx - mw, P.mean[g], cx + mw, P.mean[g]));
    ds.push(seg(cx, P.sdLo[g], cx, P.sdHi[g]));
    ds.push(seg(cx - cw, P.sdLo[g], cx + cw, P.sdLo[g]));
    ds.push(seg(cx - cw, P.sdHi[g], cx + cw, P.sdHi[g]));
  });
  const lowPts = P.lowDx
    ? P.low.map((y: number, i: number) => ({ x: 1 + P.lowDx[i], y }))
    : P.low.map((y: number, i: number) => ({ x: 1 + JIT[(i + P.jitOff[0]) % JIT.length] * P.jw, y }));
  const highPts = P.high.map((y: number, i: number) => ({ x: 2 + JIT[(i + P.jitOff[1]) % JIT.length] * P.jw, y }));
  ds.push({ data: lowPts, showLine: false, pointRadius: 5, pointBackgroundColor: BLUE, pointBorderWidth: 0, borderColor: BLUE, fill: false, order: 5 });
  ds.push({ data: highPts, showLine: false, pointRadius: 5, pointBackgroundColor: RED, pointBorderWidth: 0, borderColor: RED, fill: false, order: 6 });
  return {
    type: 'line',
    data: { datasets: ds },
    options: {
      ...baseOptions(L),
      scales: {
        x: axis({
          min: 0.4, max: 2.62, ticks: [1, 2], step: 1, tl: 5, pad: P.xPad, fs: 17.5,
          fmt: (v: number) => P.cats[Math.round(v) - 1], h: L.xH,
        }),
        y: axis({
          min: 2.2, max: 2.652, ticks: DOT_Y_TICKS, step: 0.1, tl: 5, pad: 3, fs: 18,
          fmt: (v: number) => v.toFixed(1), w: L.yW,
          title: 'm7G risk score', ts: 19, tpt: P.yTitleX - ox - 11.4,
        }),
      },
    },
    plugins: [
      makeDecor({
        ox, oy, frame: true,
        dataTexts: [{ t: P.sig, vx: 1.5, vy: P.bracket[0] + P.sigOff, size: P.sig === 'ns' ? 16 : 14 }],
        texts: [{ t: 'GSE14520 cohort', x: (P.plot.l + P.plot.r) / 2, y: P.titleY, size: 20 }],
      }),
    ],
  };
}

/* ---------------- panel specs ---------------- */
const PANELS: any[] = [
  {
    key: 'A', canvas: { x: 28, y: 32, w: 425, h: 355 },
    make: () => kmConfig({
      canvas: { x: 28, y: 32, w: 425, h: 355 }, plot: { l: 108, t: 64, r: 435, b: 324 },
      xMin: -0.29, xMax: 5.92, xTicks: KM_X_TICKS_5, xPad: 6, yTitleX: 50, xTitleY: 372.7,
      title: 'GSE14520 cohort', titleY: 50,
      hr: ['HR = 1.48 (0.95\u22122.32)', 'P = 0.082'], hrX: 123.3, hrY: [285, 306.7],
      low: { t: A_low_t, s: A_low_s, up: A_low_up, lo: A_low_lo, end: A_low_end, cens: A_low_cens, color: LOW_COL, band: LOW_BAND },
      high: { t: A_high_t, s: A_high_s, up: A_high_up, lo: A_high_lo, end: A_high_end, cens: A_high_cens, color: HIGH_COL, band: HIGH_BAND },
    }),
  },
  {
    key: 'Arisk', canvas: { x: 28, y: 362, w: 425, h: 122 },
    make: () => riskConfig({
      canvas: { x: 28, y: 362, w: 425, h: 122 }, plot: { l: 108, t: 388, r: 435, b: 458 },
      xMin: -0.31, xMax: 6.32, labPad: 14.2, low: A_risk_low, high: A_risk_high,
    }),
  },
  {
    key: 'G', canvas: { x: 470, y: 32, w: 425, h: 355 },
    make: () => kmConfig({
      canvas: { x: 470, y: 32, w: 425, h: 355 }, plot: { l: 547, t: 64, r: 874.5, b: 324 },
      xMin: -0.3, xMax: 6.17, xTicks: KM_X_TICKS_6, xPad: 6, yTitleX: 488, xTitleY: 373.3,
      title: 'GSE116174 cohort', titleY: 49.3,
      hr: ['HR = 2.16 (1.00\u22124.65)', 'P = 0.05'], hrX: 562.3, hrY: [286, 306.7],
      low: { t: G_low_t, s: G_low_s, up: G_low_up, lo: G_low_lo, end: G_low_end, cens: G_low_cens, color: LOW_COL, band: LOW_BAND },
      high: { t: G_high_t, s: G_high_s, up: G_high_up, lo: G_high_lo, end: G_high_end, cens: G_high_cens, color: HIGH_COL, band: HIGH_BAND },
    }),
  },
  {
    key: 'Grisk', canvas: { x: 470, y: 362, w: 425, h: 122 },
    make: () => riskConfig({
      canvas: { x: 470, y: 362, w: 425, h: 122 }, plot: { l: 547.3, t: 388, r: 874.3, b: 458 },
      xMin: -0.305, xMax: 6.34, labPad: 15.2, low: G_risk_low, high: G_risk_high,
    }),
  },
  {
    key: 'I', canvas: { x: 905, y: 32, w: 440, h: 355 },
    make: () => kmConfig({
      canvas: { x: 905, y: 32, w: 440, h: 355 }, plot: { l: 994.3, t: 64, r: 1322.7, b: 323 },
      xMin: -0.29, xMax: 6.24, xTicks: KM_X_TICKS_6, xPad: 5.4, yTitleX: 935, xTitleY: 370.7,
      title: 'ICGC\u2212LIRI cohort', titleY: 49.3,
      hr: ['HR = 3.70 (1.89\u22127.25)', 'P < 0.001'], hrX: 1009.3, hrY: [284, 305],
      low: { t: I_low_t, s: I_low_s, up: I_low_up, lo: I_low_lo, end: I_low_end, cens: I_low_cens, color: LOW_COL, band: LOW_BAND },
      high: { t: I_high_t, s: I_high_s, up: I_high_up, lo: I_high_lo, end: I_high_end, cens: I_high_cens, color: HIGH_COL, band: HIGH_BAND },
    }),
  },
  {
    key: 'Irisk', canvas: { x: 905, y: 360, w: 440, h: 121 },
    make: () => riskConfig({
      canvas: { x: 905, y: 360, w: 440, h: 121 }, plot: { l: 994.3, t: 386, r: 1322.7, b: 455 },
      xMin: -0.3, xMax: 6.39, labPad: 14, low: I_risk_low, high: I_risk_high,
    }),
  },
  {
    key: 'B', canvas: { x: 28, y: 485, w: 430, h: 415 },
    make: () => rocConfig({
      canvas: { x: 28, y: 485, w: 430, h: 415 }, plot: { l: 103.3, t: 518.3, r: 434.3, b: 841 },
      xr: [-0.008, 1.003], yr: [-0.003, 1.003], xTl: 5, xPad: 6, yTl: 5, yPad: 2, yTitleX: 50, xTitleY: 888,
      title: 'GSE14520 cohort', titleY: 501.7, fillA: 0.1,
      legRows: [700, 720.7, 741.7, 762.7, 783.3, 804, 824.3], legX1: 210, legX2: 231.7, legText: 242.7, legSize: 14,
      curves: [
        { label: B_labels[0], fpr: B_gender_fpr, tpr: B_gender_tpr, color: '#C4563A' },
        { label: B_labels[1], fpr: B_age_fpr, tpr: B_age_tpr, color: '#285F8F' },
        { label: B_labels[2], fpr: B_alt_fpr, tpr: B_alt_tpr, color: '#E68A2E' },
        { label: B_labels[3], fpr: B_cirr_fpr, tpr: B_cirr_tpr, color: '#2D6B55' },
        { label: B_labels[4], fpr: B_tnm_fpr, tpr: B_tnm_tpr, color: '#7FC2A5' },
        { label: B_labels[5], fpr: B_m7g_fpr, tpr: B_m7g_tpr, color: '#E8D56A' },
        { label: B_labels[6], fpr: B_afp_fpr, tpr: B_afp_tpr, color: '#67C6D6' },
      ],
    }),
  },
  {
    key: 'H', canvas: { x: 470, y: 485, w: 435, h: 420 },
    make: () => rocConfig({
      canvas: { x: 470, y: 485, w: 435, h: 420 }, plot: { l: 556.7, t: 519, r: 880.7, b: 842.7 },
      xr: [-0.005, 1.004], yr: [-0.003, 1.005], xTl: 8, xPad: 1.6, yTl: 8, yPad: 4, yTitleX: 496.7, xTitleY: 890,
      title: 'GSE116174 cohort', titleY: 501.7, fillA: 0.085,
      legRows: [764, 784, 804.3, 825], legX1: 644.3, legX2: 667.3, legText: 678.3, legSize: 14.5,
      curves: [
        { label: H_labels[0], fpr: H_gender_fpr, tpr: H_gender_tpr, color: '#3C494F' },
        { label: H_labels[1], fpr: H_age_fpr, tpr: H_age_tpr, color: '#DF8F44' },
        { label: H_labels[2], fpr: H_stage_fpr, tpr: H_stage_tpr, color: '#1A9BD0' },
        { label: H_labels[3], fpr: H_m7g_fpr, tpr: H_m7g_tpr, color: '#B24745', step: true },
      ],
    }),
  },
  {
    key: 'J', canvas: { x: 905, y: 478, w: 440, h: 420 },
    make: () => rocConfig({
      canvas: { x: 905, y: 478, w: 440, h: 420 }, plot: { l: 996.7, t: 511, r: 1320.7, b: 834 },
      xr: [-0.005, 1.004], yr: [-0.002, 1.007], xTl: 8, xPad: 3, yTl: 8, yPad: 4, yTitleX: 936.7, xTitleY: 881.7,
      title: 'ICGC\u2212LIRI cohort', titleY: 495, fillA: 0.085,
      legRows: [756, 776, 796.7, 817.3], legX1: 1084.3, legX2: 1107.3, legText: 1118.3, legSize: 14.5,
      curves: [
        { label: J_labels[0], fpr: J_gender_fpr, tpr: J_gender_tpr, color: '#3C494F' },
        { label: J_labels[1], fpr: J_age_fpr, tpr: J_age_tpr, color: '#DF8F44' },
        { label: J_labels[2], fpr: J_stage_fpr, tpr: J_stage_tpr, color: '#1A9BD0' },
        { label: J_labels[3], fpr: J_m7g_fpr, tpr: J_m7g_tpr, color: '#B24745', step: true },
      ],
    }),
  },
  {
    key: 'C', canvas: { x: 20, y: 915, w: 335, h: 330 },
    make: () => dotConfig({
      canvas: { x: 20, y: 915, w: 335, h: 330 }, plot: { l: 87.7, t: 946.7, r: 340, b: 1208.3 },
      cats: C_cats, low: C_low, high: C_high, mean: C_mean, sdLo: C_sdLo, sdHi: C_sdHi, bracket: C_bracket, sig: C_sig, sigOff: 0.009,
      meanW: [0.25, 0.2], capW: [0.118, 0.074], jw: 0.27, jitOff: [0, 100], xPad: 6, yTitleX: 35, titleY: 936.7,
    }),
  },
  {
    key: 'D', canvas: { x: 340, y: 915, w: 340, h: 340 },
    make: () => dotConfig({
      canvas: { x: 340, y: 915, w: 340, h: 340 }, plot: { l: 415, t: 950.7, r: 666.7, b: 1213.3 },
      cats: D_cats, low: D_low, high: D_high, mean: D_mean, sdLo: D_sdLo, sdHi: D_sdHi, bracket: D_bracket, sig: D_sig, sigOff: 0.009,
      meanW: [0.24, 0.16], capW: [0.08, 0.066], jw: 0.28, jitOff: [30, 150], xPad: 7, yTitleX: 358.3, titleY: 940,
    }),
  },
  {
    key: 'E', canvas: { x: 670, y: 910, w: 340, h: 335 },
    make: () => dotConfig({
      canvas: { x: 670, y: 910, w: 340, h: 335 }, plot: { l: 747.3, t: 946.7, r: 998.3, b: 1207.7 },
      cats: E_cats, low: E_low, lowDx: E_low_dx, high: E_high, mean: E_mean, sdLo: E_sdLo, sdHi: E_sdHi, bracket: E_bracket, sig: E_sig, sigOff: 0.012,
      meanW: [0.17, 0.17], capW: [0.07, 0.07], jw: 0.29, jitOff: [0, 10], xPad: 4.6, yTitleX: 690, titleY: 935,
    }),
  },
  {
    key: 'F', canvas: { x: 1000, y: 905, w: 345, h: 335 },
    make: () => dotConfig({
      canvas: { x: 1000, y: 905, w: 345, h: 335 }, plot: { l: 1075.7, t: 941.7, r: 1326.7, b: 1202.7 },
      cats: F_cats, low: F_low, high: F_high, mean: F_mean, sdLo: F_sdLo, sdHi: F_sdHi, bracket: F_bracket, sig: F_sig, sigOff: 0.012,
      meanW: [0.15, 0.17], capW: [0.06, 0.074], jw: 0.28, jitOff: [60, 120], xPad: 4.6, yTitleX: 1020, titleY: 930,
    }),
  },
];

/* ---------------- components ---------------- */
function ChartCanvas({ rect, make }: { rect: any; make: () => any }) {
  const ref = useRef<HTMLCanvasElement | null>(null);
  useEffect(() => {
    const chart = new Chart(ref.current as HTMLCanvasElement, make());
    return () => chart.destroy();
  }, []);
  return (
    <canvas
      ref={ref}
      width={rect.w}
      height={rect.h}
      style={{ position: 'absolute', left: rect.x - 8, top: rect.y - 8, width: rect.w, height: rect.h }}
    />
  );
}

const CAP_SCALE = 0.97;
const CAP_W = 1297;
const capLine: any = {
  width: CAP_W / CAP_SCALE,
  height: 25,
  lineHeight: '25px',
  textAlign: 'justify',
  textAlignLast: 'justify',
  whiteSpace: 'nowrap',
  transform: `scaleX(${CAP_SCALE})`,
  transformOrigin: '0 0',
};

export default function App() {
  return (
    <div style={{ position: 'relative', width: 1338, height: 1362, fontFamily: FONT, color: INK }}>
      <div
        style={{
          position: 'absolute', left: 0, top: 0, width: 1338, height: 1362, boxSizing: 'border-box',
          border: '1px solid #c4c4c4', borderRadius: 8,
        }}
      />
      <div style={{ position: 'absolute', left: 28, top: 454, width: 406, height: 1, background: '#dcdcdc' }} />
      {PANELS.map((p) => (
        <ChartCanvas key={p.key} rect={p.canvas} make={p.make} />
      ))}
      {LETTERS.map((l) => (
        <div
          key={l.t}
          style={{
            position: 'absolute', left: l.x - 8, top: l.y - 8, transform: 'translate(-50%, -50%)',
            fontWeight: 'bold', fontSize: 20, lineHeight: '20px', color: '#111',
          }}
        >
          {l.t}
        </div>
      ))}
      <div
        style={{
          position: 'absolute', left: 17, top: 1282.5, width: CAP_W, fontFamily: FONT, fontSize: 17.5, color: '#231f20',
        }}
      >
        <div style={capLine}>
          <b>FIGURE 5</b> | m7G risk signature is successfully tested in validation cohorts. (<b>A,B</b>) Survival difference and ROC analyses in the GSE14520 cohort. (<b>C–F</b>) Differences in
        </div>
        <div style={capLine}>
          m7G risk scores between different clinical markers in the GSE14520 cohort. (<b>G,H</b>) Survival differences and ROC analyses in the GSE116174 cohort. (<b>I,J</b>) Survival
        </div>
        <div style={{ ...capLine, textAlign: 'left', textAlignLast: 'left' }}>
          differences and ROC analyses in the ICGC-LIRI cohort. *<i>P</i> &lt; 0.05, **<i>P</i> &lt; 0.01, ***<i>P</i> &lt; 0.001.
        </div>
      </div>
    </div>
  );
}
